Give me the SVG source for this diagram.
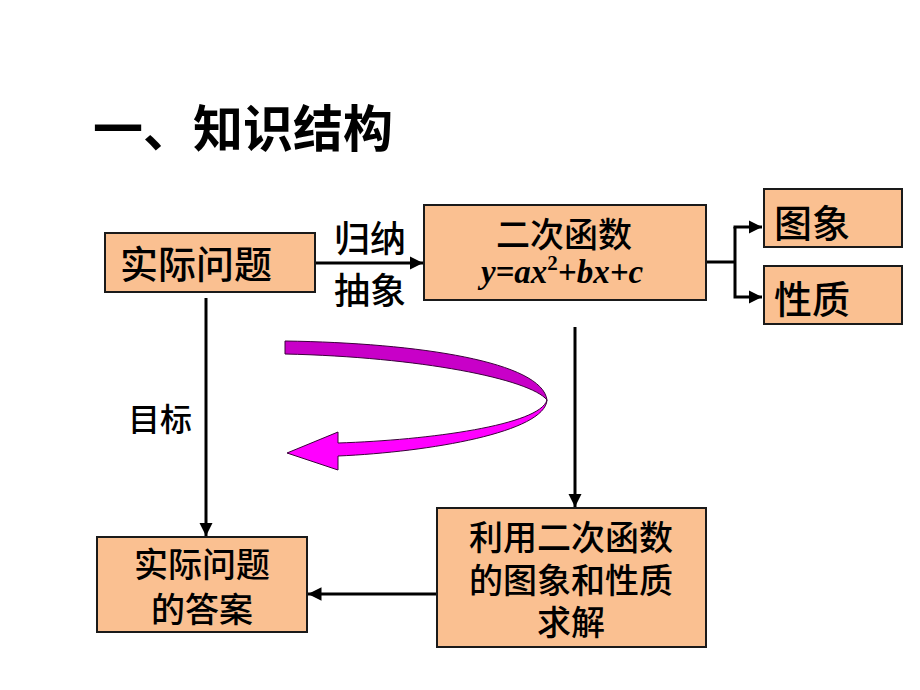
<svg xmlns="http://www.w3.org/2000/svg" width="920" height="690" viewBox="0 0 920 690">
<defs>
<style>
.box{fill:#FAC091;stroke:#1a1a1a;stroke-width:2}
.cn{font-family:"Noto Sans CJK SC","Noto Sans CJK TC",sans-serif;fill:#000;font-weight:500}
.ln{stroke:#000;stroke-width:3;fill:none}
</style>
<marker id="ah" viewBox="0 0 10 10" refX="10" refY="5" markerWidth="4.5" markerHeight="4.5" markerUnits="strokeWidth" orient="auto">
<path d="M0,0 L10,5 L0,10 Z" fill="#000"/>
</marker>
</defs>
<rect width="920" height="690" fill="#fff"/>
<text class="cn" x="93" y="147" font-size="50" font-weight="bold" style="font-weight:bold">一、知识结构</text>

<g id="connectors">
<line class="ln" x1="316" y1="263" x2="423" y2="263" marker-end="url(#ah)"/>
<polyline class="ln" points="707,262 735,262"/>
<polyline class="ln" points="735,227 735,297 762,297" marker-end="url(#ah)"/>
<line class="ln" x1="733.5" y1="227" x2="762" y2="227" marker-end="url(#ah)"/>
<line class="ln" x1="206" y1="298" x2="206" y2="536" marker-end="url(#ah)"/>
<line class="ln" x1="575" y1="327" x2="575" y2="507" marker-end="url(#ah)"/>
<line class="ln" x1="437" y1="594" x2="308" y2="594" marker-end="url(#ah)"/>
<text class="cn" x="370" y="252" font-size="36" text-anchor="middle">归纳</text>
<text class="cn" x="370" y="304" font-size="36" text-anchor="middle">抽象</text>
<text class="cn" x="160" y="431" font-size="32" text-anchor="middle">目标</text>
</g>

<g id="curve-arrow">
<path d="M285,341 C420,343 542,362 547,400 C530,379 420,357 285,354 Z" fill="#C800C8" stroke="#3a003a" stroke-width="1"/>
<path d="M547,400 C545,432 430,452 338,456 L338,470 L287,453 L338,432 L338,443 C430,440 540,425 547,400 Z" fill="#FF00FF" stroke="#3a003a" stroke-width="1"/>
</g>

<g id="n-problem">
<rect class="box" x="105" y="233" width="210" height="59"/>
<text class="cn" x="196" y="278" font-size="38" text-anchor="middle">实际问题</text>
</g>

<g id="n-quadratic">
<rect class="box" x="424" y="205" width="282" height="95"/>
<text class="cn" x="564" y="247" font-size="34" text-anchor="middle">二次函数</text>
<text x="562" y="283" font-size="33" text-anchor="middle" font-family="'Liberation Serif',serif" font-weight="bold" font-style="italic">y=ax<tspan font-size="21" dy="-13" font-style="normal">2</tspan><tspan dy="13">+bx+c</tspan></text>
</g>

<g id="n-graph">
<rect class="box" x="764" y="189" width="138" height="58"/>
<text class="cn" x="774" y="237" font-size="38">图象</text>
</g>

<g id="n-property">
<rect class="box" x="764" y="266" width="138" height="58"/>
<text class="cn" x="774" y="313" font-size="38">性质</text>
</g>

<g id="n-answer">
<rect class="box" x="97" y="537" width="210" height="95"/>
<text class="cn" x="202" y="577" font-size="34" text-anchor="middle">实际问题</text>
<text class="cn" x="202" y="622" font-size="34" text-anchor="middle">的答案</text>
</g>

<g id="n-solve">
<rect class="box" x="437" y="508" width="269" height="139"/>
<text class="cn" x="571" y="550" font-size="34" text-anchor="middle">利用二次函数</text>
<text class="cn" x="571" y="593" font-size="34" text-anchor="middle">的图象和性质</text>
<text class="cn" x="571" y="635" font-size="34" text-anchor="middle">求解</text>
</g>
</svg>
